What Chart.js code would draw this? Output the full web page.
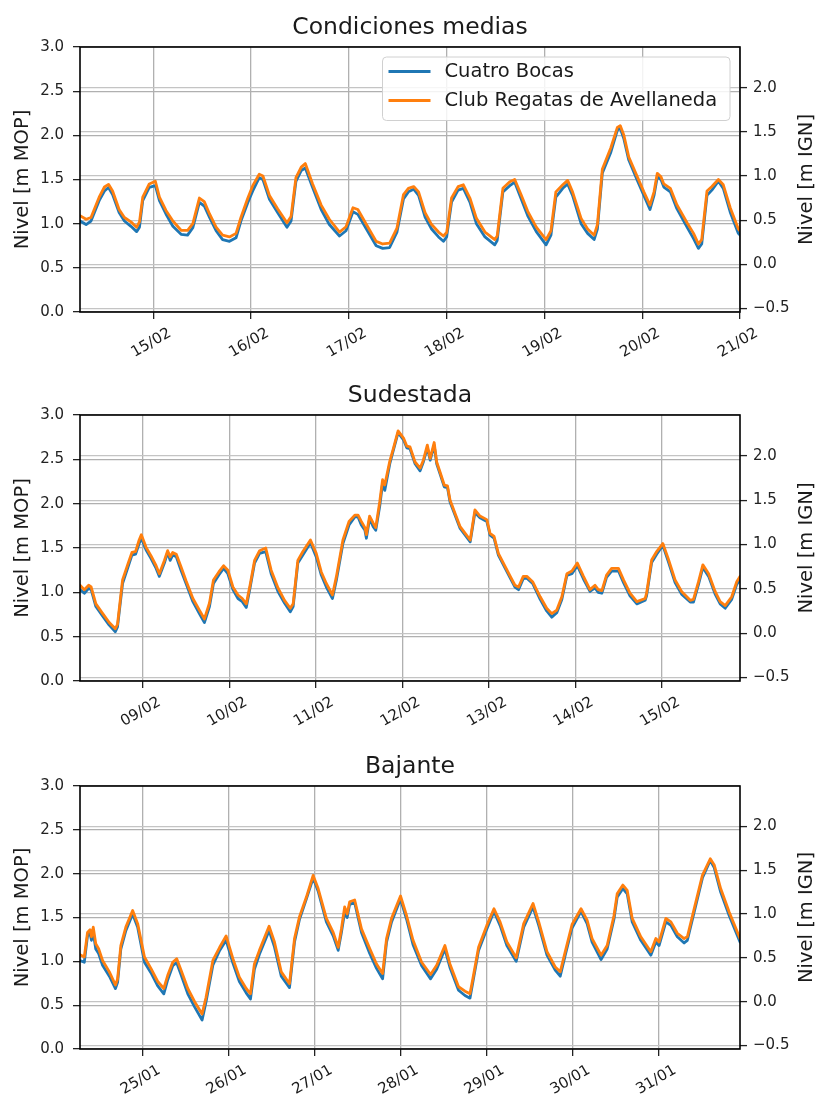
<!DOCTYPE html>
<html>
<head>
<meta charset="utf-8">
<title>Nivel del Riachuelo</title>
<script src="https://cdn.jsdelivr.net/npm/chart.js@4.4.1/dist/chart.umd.min.js"></script>
<style>
  html, body { margin: 0; padding: 0; background: #fff; }
  #wrap { position: relative; width: 821px; height: 1100px; overflow: hidden; }
  .panel { position: absolute; left: 0; width: 821px; height: 361px; }
  .panel canvas { display: block; }
</style>
</head>
<body>
<div id="wrap">
  <div class="panel" style="top:0px"><canvas id="cMedias" width="821" height="361"></canvas></div>
  <div class="panel" style="top:368px"><canvas id="cSudestada" width="821" height="361"></canvas></div>
  <div class="panel" style="top:739px"><canvas id="cBajante" width="821" height="361"></canvas></div>
</div>
<script>
// ---------------------------------------------------------------
// Series: hours counted from 00:00 of the day before the first
// labelled day; levels in metres referred to the MOP datum.
// ---------------------------------------------------------------

// Condiciones medias (14/02 - 21/02)
const mediasDays = ['15/02', '16/02', '17/02', '18/02', '19/02', '20/02', '21/02'];
const mediasHours = [
  6.0, 7.5, 8.7, 10.7, 12.0, 13.0, 14.0, 15.6, 16.9, 18.5,
  19.9, 20.6, 21.4, 23.0, 24.5, 25.5, 27.1, 28.8, 30.8, 32.4,
  33.7, 35.3, 36.5, 37.8, 39.4, 41.0, 42.7, 44.3, 45.5, 47.2,
  48.4, 50.0, 50.9, 52.5, 54.5, 56.8, 57.8, 59.0, 60.3, 61.3,
  63.1, 65.2, 67.2, 69.7, 71.3, 73.0, 74.2, 76.3, 78.7, 80.3,
  82.0, 83.8, 85.4, 86.6, 87.9, 89.1, 90.7, 92.3, 94.0, 95.2,
  96.0, 97.2, 98.8, 100.1, 101.7, 103.3, 105.4, 107.8, 108.4, 109.8,
  111.5, 112.7, 114.3, 115.9, 118.0, 120.4, 121.6, 122.8, 124.5, 125.7,
  126.9, 129.0, 130.6, 132.2, 133.0, 134.2, 136.3, 137.9, 138.6, 139.5,
  140.7, 142.8, 144.4, 145.9, 146.9, 147.7, 148.6, 149.3, 150.9, 152.5,
  155.0, 156.6, 157.8, 158.6, 159.9, 161.1, 162.7, 163.9, 165.6, 167.6,
  168.0
];
const mediasCuatroBocas = [
  1.03, 0.99, 1.03, 1.26, 1.37, 1.41, 1.33, 1.125, 1.03, 0.97,
  0.91, 0.96, 1.26, 1.41, 1.43, 1.26, 1.11, 0.97, 0.88, 0.87,
  0.955, 1.24, 1.20, 1.07, 0.92, 0.82, 0.80, 0.84, 1.03, 1.24,
  1.37, 1.52, 1.50, 1.275, 1.125, 0.96, 1.03, 1.48, 1.60, 1.63,
  1.41, 1.16, 0.99, 0.86, 0.92, 1.135, 1.105, 0.94, 0.75, 0.72,
  0.73, 0.905, 1.28, 1.36, 1.39, 1.32, 1.075, 0.94, 0.85, 0.80,
  0.85, 1.245, 1.38, 1.40, 1.245, 1.0, 0.85, 0.76, 0.81, 1.36,
  1.43, 1.47, 1.28, 1.09, 0.91, 0.76, 0.87, 1.30, 1.40, 1.45,
  1.32, 1.0, 0.89, 0.82, 0.94, 1.57, 1.81, 2.06, 2.08, 1.96,
  1.72, 1.49, 1.32, 1.16, 1.32, 1.53, 1.50, 1.415, 1.36, 1.17,
  0.96, 0.83, 0.72, 0.77, 1.32, 1.38, 1.48, 1.40, 1.13, 0.89,
  0.87
];
const mediasRegatas = [
  1.09, 1.05, 1.07, 1.30, 1.415, 1.445, 1.37, 1.16, 1.07, 1.02,
  0.96, 1.02, 1.30, 1.45, 1.48, 1.30, 1.15, 1.03, 0.925, 0.925,
  1.0, 1.29, 1.25, 1.11, 0.96, 0.87, 0.85, 0.89, 1.07, 1.29,
  1.43, 1.56, 1.54, 1.32, 1.17, 1.01, 1.08, 1.52, 1.64, 1.68,
  1.45, 1.21, 1.05, 0.905, 0.965, 1.18, 1.16, 0.99, 0.80, 0.77,
  0.78, 0.95, 1.33, 1.40, 1.42, 1.36, 1.125, 0.99, 0.905, 0.86,
  0.90, 1.29, 1.42, 1.44, 1.29, 1.06, 0.905, 0.82, 0.86, 1.40,
  1.475, 1.50, 1.325, 1.14, 0.96, 0.82, 0.92, 1.36, 1.44, 1.49,
  1.36, 1.06, 0.94, 0.87, 0.99, 1.615, 1.86, 2.09, 2.11, 2.0,
  1.755, 1.53, 1.36, 1.21, 1.36, 1.57, 1.53, 1.45, 1.40, 1.215,
  1.01, 0.89, 0.77, 0.82, 1.37, 1.42, 1.50, 1.44, 1.18, 0.94,
  0.92
];

// Sudestada (08/02 - 15/02)
const sudestadaDays = ['09/02', '10/02', '11/02', '12/02', '13/02', '14/02', '15/02'];
const sudestadaHours = [
  6.6, 7.8, 9.0, 9.7, 11.0, 12.9, 14.7, 16.4, 17.0, 18.4,
  19.8, 21.0, 22.0, 23.0, 23.6, 24.9, 26.3, 27.7, 28.6, 30.0,
  30.9, 31.6, 32.3, 33.3, 34.6, 36.0, 37.9, 39.7, 41.1, 42.5,
  43.6, 45.1, 46.4, 47.6, 49.0, 50.4, 51.6, 52.7, 53.8, 55.0,
  56.4, 58.1, 59.6, 61.5, 63.3, 64.9, 65.7, 67.0, 68.4, 70.5,
  72.1, 73.5, 74.9, 76.6, 77.7, 79.5, 81.2, 82.8, 83.7, 84.6,
  85.6, 86.0, 86.9, 87.9, 88.6, 89.7, 90.5, 91.1, 92.5, 93.4,
  94.8, 96.3, 97.2, 98.1, 99.5, 100.9, 101.8, 102.9, 103.7, 104.8,
  105.5, 106.4, 107.6, 108.5, 109.2, 110.6, 112.0, 113.4, 114.8, 116.1,
  117.5, 119.4, 120.3, 121.4, 122.6, 124.5, 125.9, 127.2, 128.2, 129.5,
  130.5, 132.1, 134.2, 136.0, 137.4, 138.8, 140.2, 141.6, 143.0, 144.5,
  146.2, 148.0, 149.4, 150.3, 151.3, 152.6, 154.0, 155.9, 157.3, 159.1,
  161.0, 163.3, 163.7, 165.1, 166.5, 168.2, 169.7, 171.6, 173.4, 175.8,
  176.7, 178.1, 179.3, 180.9, 182.7, 184.1, 185.5, 187.3, 188.7, 189.6
];
const sudestadaCuatroBocas = [
  1.03, 0.99, 1.045, 1.03, 0.84, 0.73, 0.63, 0.556, 0.61, 1.10,
  1.27, 1.42, 1.43, 1.55, 1.61, 1.48, 1.38, 1.27, 1.18, 1.33,
  1.45, 1.36, 1.42, 1.40, 1.25, 1.10, 0.895, 0.76, 0.66, 0.84,
  1.10, 1.195, 1.27, 1.21, 1.03, 0.93, 0.895, 0.83, 1.06, 1.33,
  1.44, 1.46, 1.21, 1.01, 0.88, 0.78, 0.84, 1.33, 1.42, 1.56,
  1.40, 1.195, 1.06, 0.93, 1.14, 1.55, 1.76, 1.85, 1.85, 1.76,
  1.70, 1.61, 1.83, 1.74, 1.70, 1.97, 2.23, 2.15, 2.45, 2.59,
  2.80, 2.72, 2.63, 2.62, 2.45, 2.37, 2.47, 2.63, 2.49, 2.66,
  2.45, 2.34, 2.19, 2.18, 2.02, 1.87, 1.72, 1.645, 1.57, 1.90,
  1.84, 1.80, 1.645, 1.61, 1.42, 1.27, 1.16, 1.06, 1.03, 1.155,
  1.16, 1.10, 0.92, 0.79, 0.72, 0.77, 0.92, 1.19, 1.21, 1.30,
  1.15, 1.01, 1.05, 1.0, 0.99, 1.17, 1.24, 1.24, 1.11, 0.96,
  0.87, 0.91, 0.96, 1.335, 1.43, 1.53, 1.35, 1.11, 0.98, 0.89,
  0.89, 1.09, 1.28, 1.18, 0.98, 0.87, 0.82, 0.92, 1.09, 1.14
];
const sudestadaRegatas = [
  1.08, 1.03, 1.08, 1.06, 0.87, 0.76, 0.66, 0.59, 0.64, 1.14,
  1.31, 1.45, 1.46, 1.59, 1.65, 1.51, 1.41, 1.30, 1.21, 1.36,
  1.47, 1.40, 1.45, 1.43, 1.29, 1.13, 0.93, 0.80, 0.70, 0.88,
  1.14, 1.23, 1.30, 1.25, 1.06, 0.97, 0.93, 0.87, 1.09, 1.36,
  1.47, 1.50, 1.25, 1.05, 0.91, 0.82, 0.87, 1.36, 1.46, 1.59,
  1.44, 1.23, 1.10, 0.97, 1.18, 1.59, 1.80, 1.87, 1.87, 1.80,
  1.73, 1.65, 1.86, 1.78, 1.73, 2.02, 2.27, 2.21, 2.48, 2.61,
  2.82, 2.74, 2.65, 2.64, 2.47, 2.40, 2.49, 2.66, 2.51, 2.69,
  2.47, 2.36, 2.21, 2.20, 2.04, 1.89, 1.74, 1.665, 1.59, 1.93,
  1.86, 1.82, 1.665, 1.63, 1.44, 1.29, 1.18, 1.08, 1.06, 1.18,
  1.18, 1.12, 0.95, 0.82, 0.76, 0.80, 0.95, 1.21, 1.24, 1.33,
  1.18, 1.03, 1.08, 1.03, 1.02, 1.195, 1.27, 1.27, 1.14, 0.99,
  0.895, 0.93, 0.99, 1.365, 1.46, 1.55, 1.38, 1.14, 1.01, 0.91,
  0.92, 1.12, 1.31, 1.21, 1.01, 0.895, 0.85, 0.95, 1.12, 1.18
];

// Bajante (24/01 - 31/01)
const bajanteDays = ['25/01', '26/01', '27/01', '28/01', '29/01', '30/01', '31/01'];
const bajanteHours = [
  6.5, 7.7, 8.6, 9.3, 9.7, 10.2, 10.9, 11.7, 12.8, 14.7,
  16.4, 17.0, 17.9, 19.3, 21.2, 22.6, 24.5, 26.3, 28.2, 29.9,
  31.0, 32.4, 33.5, 34.7, 36.6, 38.5, 40.6, 41.7, 43.6, 45.5,
  47.3, 49.2, 51.0, 52.9, 54.1, 55.2, 56.6, 59.3, 60.8, 62.7,
  65.0, 66.4, 67.8, 69.7, 71.6, 73.0, 75.3, 77.2, 78.6, 79.5,
  80.4, 81.1, 81.8, 83.2, 85.1, 87.4, 89.3, 91.0, 92.1, 93.5,
  96.0, 97.7, 99.5, 101.9, 104.4, 106.1, 108.4, 109.8, 112.2, 114.0,
  115.4, 116.2, 117.8, 120.1, 122.1, 123.8, 125.7, 128.3, 130.4, 133.0,
  134.6, 136.9, 139.2, 140.6, 142.0, 143.9, 146.4, 148.1, 149.5, 152.0,
  153.7, 155.6, 156.5, 158.1, 159.3, 160.7, 163.1, 165.9, 167.3, 168.2,
  170.1, 171.5, 173.3, 175.2, 176.1, 178.0, 180.3, 182.5, 183.6, 185.4,
  187.8, 190.8
];
const bajanteCuatroBocas = [
  1.01, 0.99, 1.29, 1.32, 1.24, 1.33, 1.14, 1.09, 0.955, 0.83,
  0.69, 0.76, 1.14, 1.35, 1.54, 1.39, 0.99, 0.87, 0.72, 0.63,
  0.79, 0.95, 0.985, 0.85, 0.63, 0.48, 0.33, 0.54, 0.955, 1.125,
  1.24, 0.98, 0.77, 0.64, 0.57, 0.91, 1.08, 1.35, 1.165, 0.83,
  0.70, 1.22, 1.48, 1.71, 1.95, 1.80, 1.45, 1.29, 1.125, 1.33,
  1.56, 1.50, 1.65, 1.67, 1.33, 1.09, 0.92, 0.80, 1.22, 1.45,
  1.71, 1.48, 1.19, 0.95, 0.80, 0.91, 1.14, 0.93, 0.67, 0.61,
  0.58, 0.76, 1.125, 1.37, 1.57, 1.41, 1.18, 1.00, 1.39, 1.62,
  1.41, 1.07, 0.90, 0.83, 1.07, 1.38, 1.57, 1.43, 1.22, 1.02,
  1.14, 1.48, 1.73, 1.83, 1.77, 1.45, 1.24, 1.07, 1.22, 1.18,
  1.45, 1.41, 1.28, 1.21, 1.24, 1.56, 1.95, 2.15, 2.07, 1.79,
  1.52, 1.22
];
const bajanteRegatas = [
  1.076, 1.05, 1.33, 1.36, 1.28, 1.39, 1.20, 1.145, 1.01, 0.88,
  0.73, 0.80, 1.18, 1.39, 1.58, 1.43, 1.05, 0.92, 0.77, 0.69,
  0.84, 0.99, 1.03, 0.90, 0.69, 0.54, 0.40, 0.59, 1.01, 1.16,
  1.29, 1.03, 0.82, 0.69, 0.63, 0.97, 1.125, 1.40, 1.22, 0.88,
  0.745, 1.26, 1.51, 1.73, 1.98, 1.83, 1.49, 1.33, 1.16, 1.37,
  1.62, 1.54, 1.68, 1.70, 1.37, 1.145, 0.97, 0.86, 1.26, 1.49,
  1.745, 1.52, 1.24, 0.99, 0.85, 0.955, 1.18, 0.97, 0.71, 0.66,
  0.63, 0.80, 1.16, 1.41, 1.60, 1.45, 1.22, 1.04, 1.43, 1.66,
  1.45, 1.11, 0.935, 0.88, 1.11, 1.42, 1.60, 1.47, 1.26, 1.07,
  1.18, 1.52, 1.77, 1.87, 1.81, 1.49, 1.28, 1.11, 1.26, 1.22,
  1.49, 1.45, 1.32, 1.26, 1.28, 1.60, 1.98, 2.17, 2.10, 1.83,
  1.56, 1.26
];

// Axis ticks
const dayTickHours = [24, 48, 72, 96, 120, 144, 168];
const mopTicks = [0, 0.5, 1, 1.5, 2, 2.5, 3];
const ignTicks = [-0.5, 0, 0.5, 1, 1.5, 2];
const IGN_OFFSET = 0.54;   // IGN zero sits 0.54 m above MOP zero

// ---------------------------------------------------------------
Chart.defaults.font.family = '"DejaVu Sans", sans-serif';
Chart.defaults.color = '#222';

const FONT = '"DejaVu Sans", sans-serif';

// Title, axis names and rotated day labels
const panelText = {
  id: 'panelText',
  afterDraw(chart, args, opts) {
    const { ctx, chartArea: a, scales } = chart;
    ctx.save();
    ctx.fillStyle = '#1a1a1a';
    ctx.textAlign = 'center';
    ctx.font = '23.5px ' + FONT;
    ctx.textBaseline = 'alphabetic';
    ctx.fillText(opts.title, (a.left + a.right) / 2, a.top - 13);

    ctx.font = '19.5px ' + FONT;
    ctx.textBaseline = 'middle';
    const midY = (a.top + a.bottom) / 2;
    [[22.5, opts.leftTitle], [806.5, opts.rightTitle]].forEach(([x, t]) => {
      ctx.save();
      ctx.translate(x, midY);
      ctx.rotate(-Math.PI / 2);
      ctx.fillText(t, 0, 0);
      ctx.restore();
    });

    ctx.font = '15px ' + FONT;
    const xs = scales.x;
    xs.ticks.forEach((t, i) => {
      const px = xs.getPixelForValue(t.value);
      ctx.save();
      ctx.translate(px - 2, a.bottom + 31);
      ctx.rotate(-Math.PI / 6);
      ctx.fillText(opts.dayLabels[i], 0, 0);
      ctx.restore();
    });
    ctx.restore();
  }
};

// Boxed key in the upper right of the plot
const seriesKey = {
  id: 'seriesKey',
  afterDatasetsDraw(chart, args, opts) {
    if (!opts.show) return;
    const { ctx, chartArea: a } = chart;
    const w = 347.5, h = 63.5, r = 4;
    const x0 = a.right - 10 - w, y0 = a.top + 10;
    ctx.save();
    ctx.beginPath();
    ctx.moveTo(x0 + r, y0);
    ctx.lineTo(x0 + w - r, y0);
    ctx.quadraticCurveTo(x0 + w, y0, x0 + w, y0 + r);
    ctx.lineTo(x0 + w, y0 + h - r);
    ctx.quadraticCurveTo(x0 + w, y0 + h, x0 + w - r, y0 + h);
    ctx.lineTo(x0 + r, y0 + h);
    ctx.quadraticCurveTo(x0, y0 + h, x0, y0 + h - r);
    ctx.lineTo(x0, y0 + r);
    ctx.quadraticCurveTo(x0, y0, x0 + r, y0);
    ctx.closePath();
    ctx.fillStyle = 'rgba(255,255,255,0.85)';
    ctx.fill();
    ctx.strokeStyle = '#d0d0d0';
    ctx.lineWidth = 1;
    ctx.stroke();

    ctx.font = '19.5px ' + FONT;
    ctx.textAlign = 'left';
    ctx.textBaseline = 'middle';
    chart.data.datasets.forEach((ds, i) => {
      const y = y0 + 14.5 + i * 29;
      ctx.strokeStyle = ds.borderColor;
      ctx.lineWidth = 2.8;
      ctx.beginPath();
      ctx.moveTo(x0 + 6, y);
      ctx.lineTo(x0 + 48, y);
      ctx.stroke();
      ctx.fillStyle = '#1a1a1a';
      ctx.fillText(ds.label, x0 + 62, y);
    });
    ctx.restore();
  }
};

// Black frame around the plotting area
const frame = {
  id: 'frame',
  afterDatasetsDraw(chart) {
    const { ctx, chartArea: a } = chart;
    ctx.save();
    ctx.strokeStyle = '#000';
    ctx.lineWidth = 1.6;
    ctx.strokeRect(a.left, a.top, a.right - a.left, a.bottom - a.top);
    ctx.restore();
  }
};

function toPoints(hours, values) {
  return hours.map((h, i) => ({ x: h, y: values[i] }));
}

function fmtLevel(v) {
  return (v < 0 ? '\u2212' : '') + Math.abs(v).toFixed(1);
}

function buildPanel(canvasId, p) {
  const lineStyle = { borderWidth: 2.8, pointRadius: 0, tension: 0,
                      borderJoinStyle: 'round', borderCapStyle: 'round' };
  return new Chart(document.getElementById(canvasId), {
    type: 'line',
    data: {
      datasets: [
        Object.assign({ label: 'Cuatro Bocas', data: toPoints(p.hours, p.cuatroBocas),
          borderColor: '#1f77b4', order: 1 }, lineStyle),
        Object.assign({ label: 'Club Regatas de Avellaneda', data: toPoints(p.hours, p.regatas),
          borderColor: '#ff7f0e', order: 0 }, lineStyle)
      ]
    },
    options: {
      responsive: false,
      animation: false,
      devicePixelRatio: 1,
      layout: { padding: { top: 47, left: 0, right: 0, bottom: 0 } },
      plugins: {
        legend: { display: false },
        tooltip: { enabled: false },
        panelText: { title: p.title, leftTitle: 'Nivel [m MOP]', rightTitle: 'Nivel [m IGN]', dayLabels: p.days },
        seriesKey: { show: !!p.key }
      },
      scales: {
        x: {
          type: 'linear', min: p.min, max: p.max,
          afterBuildTicks: s => { s.ticks = dayTickHours.map(v => ({ value: v })); },
          afterFit: s => { s.height = p.xAxisHeight; },
          ticks: { display: false },
          grid: { color: '#b0b0b0', lineWidth: 1.3, tickLength: 7, tickColor: '#222', tickWidth: 1.3 },
          border: { display: false }
        },
        y: {
          position: 'left', min: 0, max: 3,
          afterBuildTicks: s => { s.ticks = mopTicks.map(v => ({ value: v })); },
          afterFit: s => { s.width = 80; },
          ticks: { font: { size: 15 }, color: '#222', padding: 9, callback: v => fmtLevel(v) },
          grid: { color: '#b0b0b0', lineWidth: 1.3, tickLength: 7, tickColor: '#222', tickWidth: 1.3 },
          border: { display: false }
        },
        y2: {
          position: 'right', min: -IGN_OFFSET, max: 3 - IGN_OFFSET,
          afterBuildTicks: s => { s.ticks = ignTicks.map(v => ({ value: v })); },
          afterFit: s => { s.width = 81; },
          ticks: { font: { size: 15 }, color: '#222', padding: 6, callback: v => fmtLevel(v) },
          grid: { color: '#c4c4c4', lineWidth: 1.2, borderDash: [2, 2], tickLength: 7,
                  tickColor: '#222', tickWidth: 1.3, tickBorderDash: [] },
          border: { display: false }
        }
      }
    },
    plugins: [panelText, seriesKey, frame]
  });
}

buildPanel('cMedias', {
  title: 'Condiciones medias', days: mediasDays, key: true,
  hours: mediasHours, cuatroBocas: mediasCuatroBocas, regatas: mediasRegatas,
  min: 6.0, max: 168, xAxisHeight: 49
});
buildPanel('cSudestada', {
  title: 'Sudestada', days: sudestadaDays,
  hours: sudestadaHours, cuatroBocas: sudestadaCuatroBocas, regatas: sudestadaRegatas,
  min: 6.6, max: 189.6, xAxisHeight: 48
});
buildPanel('cBajante', {
  title: 'Bajante', days: bajanteDays,
  hours: bajanteHours, cuatroBocas: bajanteCuatroBocas, regatas: bajanteRegatas,
  min: 6.5, max: 190.8, xAxisHeight: 51
});
</script>
</body>
</html>
